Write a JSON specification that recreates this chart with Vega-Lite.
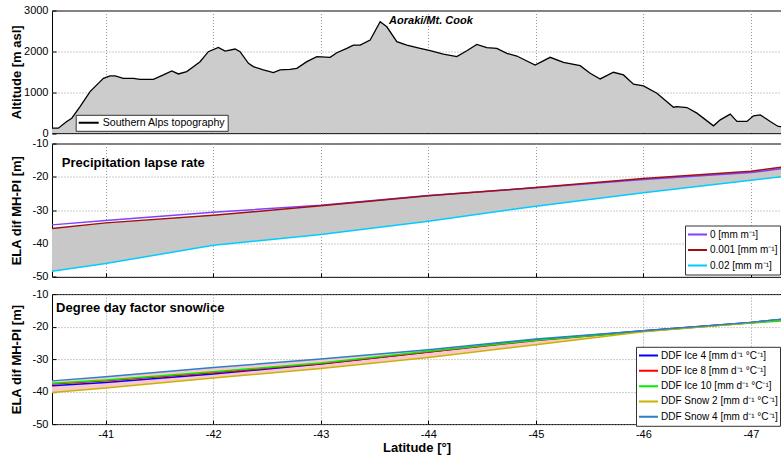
{
  "$schema": "https://vega.github.io/schema/vega-lite/v6.json",
  "padding": {"left": 9, "top": 3.5, "right": 0, "bottom": 0},
  "bounds": "flush",
  "spacing": 10,
  "config": {
    "font": "Liberation Sans",
    "view": {"stroke": "#000", "strokeWidth": 1},
    "axis": {
      "labelFont": "Liberation Sans", "labelFontSize": 11, "labelColor": "#000", "labelOverlap": false,
      "titleFont": "Liberation Sans", "titleFontSize": 13, "titleFontWeight": "bold", "titleColor": "#000",
      "tickSize": -4, "tickColor": "#000", "labelPadding": 8, "domain": false,
      "grid": true, "gridColor": "#999", "gridDash": [1, 2], "gridOpacity": 1
    },
    "legend": {
      "labelFont": "Liberation Sans", "labelFontSize": 10, "labelColor": "#000",
      "symbolType": "stroke", "symbolStrokeWidth": 2, "symbolSize": 361,
      "strokeColor": "#333", "fillColor": "#fff", "padding": 2, "labelOffset": 2,
      "clipHeight": 14, "rowPadding": 1
    }
  },
  "datasets": {
    "topo": [
      {"lat": -40.5, "alt": 120}, {"lat": -40.559, "alt": 120}, {"lat": -40.637, "alt": 285},
      {"lat": -40.684, "alt": 365}, {"lat": -40.761, "alt": 650}, {"lat": -40.854, "alt": 1016},
      {"lat": -40.947, "alt": 1260}, {"lat": -40.978, "alt": 1340}, {"lat": -41.04, "alt": 1400},
      {"lat": -41.087, "alt": 1400}, {"lat": -41.164, "alt": 1340}, {"lat": -41.257, "alt": 1340},
      {"lat": -41.319, "alt": 1317}, {"lat": -41.443, "alt": 1317}, {"lat": -41.536, "alt": 1423},
      {"lat": -41.614, "alt": 1520}, {"lat": -41.675, "alt": 1447}, {"lat": -41.753, "alt": 1504},
      {"lat": -41.815, "alt": 1626}, {"lat": -41.877, "alt": 1748}, {"lat": -41.954, "alt": 1992},
      {"lat": -42.047, "alt": 2098}, {"lat": -42.11, "alt": 2008}, {"lat": -42.203, "alt": 2057},
      {"lat": -42.249, "alt": 1992}, {"lat": -42.327, "alt": 1707}, {"lat": -42.373, "alt": 1626},
      {"lat": -42.466, "alt": 1545}, {"lat": -42.559, "alt": 1480}, {"lat": -42.621, "alt": 1545},
      {"lat": -42.714, "alt": 1561}, {"lat": -42.777, "alt": 1585}, {"lat": -42.87, "alt": 1748},
      {"lat": -42.963, "alt": 1870}, {"lat": -43.087, "alt": 1854}, {"lat": -43.149, "alt": 1967},
      {"lat": -43.242, "alt": 2073}, {"lat": -43.303, "alt": 2154}, {"lat": -43.366, "alt": 2154},
      {"lat": -43.459, "alt": 2276}, {"lat": -43.552, "alt": 2724}, {"lat": -43.614, "alt": 2602},
      {"lat": -43.707, "alt": 2236}, {"lat": -43.8, "alt": 2154}, {"lat": -43.924, "alt": 2073},
      {"lat": -44.017, "alt": 2016}, {"lat": -44.14, "alt": 1935}, {"lat": -44.265, "alt": 1870},
      {"lat": -44.358, "alt": 2016}, {"lat": -44.451, "alt": 2171}, {"lat": -44.544, "alt": 2089},
      {"lat": -44.637, "alt": 2073}, {"lat": -44.73, "alt": 1951}, {"lat": -44.823, "alt": 1886},
      {"lat": -44.993, "alt": 1667}, {"lat": -45.133, "alt": 1854}, {"lat": -45.257, "alt": 1732},
      {"lat": -45.412, "alt": 1650}, {"lat": -45.505, "alt": 1463}, {"lat": -45.598, "alt": 1325},
      {"lat": -45.722, "alt": 1488}, {"lat": -45.815, "alt": 1423}, {"lat": -45.908, "alt": 1195},
      {"lat": -46.001, "alt": 1154}, {"lat": -46.126, "alt": 976}, {"lat": -46.28, "alt": 634},
      {"lat": -46.312, "alt": 650}, {"lat": -46.405, "alt": 626}, {"lat": -46.498, "alt": 488},
      {"lat": -46.652, "alt": 179}, {"lat": -46.715, "alt": 325}, {"lat": -46.808, "alt": 463},
      {"lat": -46.87, "alt": 285}, {"lat": -46.963, "alt": 285}, {"lat": -47.024, "alt": 423},
      {"lat": -47.087, "alt": 447}, {"lat": -47.18, "alt": 285}, {"lat": -47.254, "alt": 163},
      {"lat": -47.28, "alt": 160}
    ],
    "plr": [
      {"lat": -40.5, "p0": -34.4, "p001": -35.5, "p02": -48.3},
      {"lat": -41, "p0": -33.1, "p001": -33.8, "p02": -46.0},
      {"lat": -42, "p0": -30.6, "p001": -31.5, "p02": -40.5},
      {"lat": -43, "p0": -28.5, "p001": -28.7, "p02": -37.3},
      {"lat": -44, "p0": -25.6, "p001": -25.7, "p02": -33.3},
      {"lat": -45, "p0": -23.3, "p001": -23.2, "p02": -28.8},
      {"lat": -46, "p0": -20.8, "p001": -20.5, "p02": -24.8},
      {"lat": -47, "p0": -18.7, "p001": -18.3, "p02": -21.0},
      {"lat": -47.28, "p0": -17.6, "p001": -17.1, "p02": -20.0}
    ],
    "ddf": [
      {"lat": -40.5, "ice4": -38.2, "ice8": -37.7, "ice10": -37.4, "snow2": -40.3, "snow4": -36.7},
      {"lat": -41, "ice4": -37.2, "ice8": -36.7, "ice10": -36.4, "snow2": -38.9, "snow4": -35.4},
      {"lat": -42, "ice4": -34.6, "ice8": -34.2, "ice10": -33.9, "snow2": -35.8, "snow4": -32.6},
      {"lat": -43, "ice4": -31.5, "ice8": -31.4, "ice10": -31.2, "snow2": -32.9, "snow4": -30.0},
      {"lat": -44, "ice4": -27.8, "ice8": -27.8, "ice10": -27.6, "snow2": -29.5, "snow4": -27.1},
      {"lat": -45, "ice4": -24.1, "ice8": -24.3, "ice10": -24.2, "snow2": -25.6, "snow4": -23.8},
      {"lat": -46, "ice4": -21.3, "ice8": -21.4, "ice10": -21.4, "snow2": -21.6, "snow4": -21.3},
      {"lat": -47, "ice4": -18.7, "ice8": -18.8, "ice10": -18.9, "snow2": -18.8, "snow4": -18.7},
      {"lat": -47.28, "ice4": -17.8, "ice8": -18.0, "ice10": -18.3, "snow2": -17.9, "snow4": -17.7}
    ]
  },
  "resolve": {"scale": {"color": "independent"}, "legend": {"color": "independent"}},
  "vconcat": [
    {
      "width": 729, "height": 122.6,
      "layer": [
        {
          "data": {"name": "topo"},
          "mark": {"type": "area", "color": "#cccccc"},
          "encoding": {
            "x": {"field": "lat", "type": "quantitative",
              "scale": {"domain": [-40.5, -47.28], "nice": false, "zero": false},
              "axis": {"values": [-41, -42, -43, -44, -45, -46, -47], "tickCount": 20, "labels": false, "title": null}},
            "y": {"field": "alt", "type": "quantitative",
              "scale": {"domain": [0, 3000], "nice": false},
              "axis": {"values": [0, 1000, 2000, 3000], "tickCount": 10, "labelOverlap": false, "labelExpr": "'' + datum.value", "title": "Altitude [m asl]", "titleX": -29}}
          }
        },
        {
          "data": {"name": "topo"},
          "mark": {"type": "line", "strokeWidth": 1.3},
          "encoding": {
            "x": {"field": "lat", "type": "quantitative"},
            "y": {"field": "alt", "type": "quantitative"},
            "color": {"datum": "Southern Alps topography", "type": "nominal",
              "scale": {"range": ["#000000"]},
              "legend": {"title": null, "orient": "none", "legendX": 23.7, "legendY": 104.3, "clipHeight": 12, "labelFontSize": 10.6, "symbolSize": 400, "labelOffset": 3}}
          }
        },
        {
          "data": {"values": [{"label": "Aoraki/Mt. Cook", "lat": -43.635, "alt": 2755}]},
          "mark": {"type": "text", "align": "left", "baseline": "middle", "fontSize": 11, "fontWeight": "bold", "fontStyle": "italic", "font": "Liberation Sans", "color": "#000"},
          "encoding": {
            "x": {"field": "lat", "type": "quantitative"},
            "y": {"field": "alt", "type": "quantitative"},
            "text": {"field": "label"}
          }
        }
      ]
    },
    {
      "spacing": 16.6,
      "bounds": "flush",
      "resolve": {"scale": {"color": "independent"}, "legend": {"color": "independent"}},
      "vconcat": [
        {
          "width": 729, "height": 133.4,
          "layer": [
            {
              "data": {"name": "plr"},
              "mark": {"type": "area", "color": "#c8c8c8"},
              "encoding": {
                "x": {"field": "lat", "type": "quantitative",
                  "scale": {"domain": [-40.5, -47.28], "nice": false, "zero": false},
                  "axis": {"values": [-41, -42, -43, -44, -45, -46, -47], "tickCount": 20, "labels": false, "title": null}},
                "y": {"field": "p02", "type": "quantitative",
                  "scale": {"domain": [-50, -10], "nice": false, "zero": false},
                  "axis": {"values": [-50, -40, -30, -20, -10], "tickCount": 10, "labelOverlap": false, "labelExpr": "'' + datum.value", "title": "ELA dif MH-PI [m]", "titleX": -29}},
                "y2": {"field": "p001"}
              }
            },
            {
              "data": {"name": "plr"},
              "transform": [{"fold": ["p0", "p001", "p02"], "as": ["series", "v"]}],
              "mark": {"type": "line", "strokeWidth": 1.5},
              "encoding": {
                "x": {"field": "lat", "type": "quantitative"},
                "y": {"field": "v", "type": "quantitative"},
                "color": {"field": "series", "type": "nominal",
                  "scale": {"domain": ["p0", "p001", "p02"], "range": ["#8040ff", "#a01010", "#00ccff"]},
                  "legend": {"title": null, "orient": "none", "legendX": 633, "legendY": 82, "clipHeight": 14, "rowPadding": 1.5,
                    "labelExpr": "datum.label == 'p0' ? '0 [mm m⁻¹]' : datum.label == 'p001' ? '0.001 [mm m⁻¹]' : '0.02 [mm m⁻¹]'"}}
              }
            },
            {
              "data": {"values": [{"label": "Precipitation lapse rate", "lat": -40.591, "v": -15.9}]},
              "mark": {"type": "text", "align": "left", "baseline": "middle", "fontSize": 13, "fontWeight": "bold", "font": "Liberation Sans", "color": "#000"},
              "encoding": {
                "x": {"field": "lat", "type": "quantitative"},
                "y": {"field": "v", "type": "quantitative"},
                "text": {"field": "label"}
              }
            }
          ]
        },
        {
          "width": 729, "height": 130,
          "layer": [
            {
              "data": {"name": "ddf"},
              "mark": {"type": "area", "color": "#f8c8cc"},
              "encoding": {
                "x": {"field": "lat", "type": "quantitative",
                  "scale": {"domain": [-40.5, -47.28], "nice": false, "zero": false},
                  "axis": {"values": [-41, -42, -43, -44, -45, -46, -47], "tickCount": 20, "labelExpr": "'' + datum.value", "title": "Latitude [°]", "titlePadding": 2}},
                "y": {"field": "snow2", "type": "quantitative",
                  "scale": {"domain": [-50, -10], "nice": false, "zero": false},
                  "axis": {"values": [-50, -40, -30, -20, -10], "tickCount": 10, "labelOverlap": false, "labelExpr": "'' + datum.value", "title": "ELA dif MH-PI [m]", "titleX": -29}},
                "y2": {"field": "snow4"}
              }
            },
            {
              "data": {"name": "ddf"},
              "transform": [{"fold": ["ice4", "ice8", "ice10", "snow2", "snow4"], "as": ["series", "v"]}],
              "mark": {"type": "line", "strokeWidth": 1.5},
              "encoding": {
                "x": {"field": "lat", "type": "quantitative"},
                "y": {"field": "v", "type": "quantitative"},
                "color": {"field": "series", "type": "nominal",
                  "scale": {"domain": ["ice4", "ice8", "ice10", "snow2", "snow4"], "range": ["#0000ff", "#ff0000", "#00ee00", "#c8b400", "#2a7fc8"]},
                  "legend": {"title": null, "orient": "none", "legendX": 584, "legendY": 52.7, "clipHeight": 13.5, "rowPadding": 1.3,
                    "labelExpr": "datum.label == 'ice4' ? 'DDF Ice 4 [mm d⁻¹ °C⁻¹]' : datum.label == 'ice8' ? 'DDF Ice 8 [mm d⁻¹ °C⁻¹]' : datum.label == 'ice10' ? 'DDF Ice 10 [mm d⁻¹ °C⁻¹]' : datum.label == 'snow2' ? 'DDF Snow 2 [mm d⁻¹ °C⁻¹]' : 'DDF Snow 4 [mm d⁻¹ °C⁻¹]'"}}
              }
            },
            {
              "data": {"values": [{"label": "Degree day factor snow/ice", "lat": -40.538, "v": -14.4}]},
              "mark": {"type": "text", "align": "left", "baseline": "middle", "fontSize": 13, "fontWeight": "bold", "font": "Liberation Sans", "color": "#000"},
              "encoding": {
                "x": {"field": "lat", "type": "quantitative"},
                "y": {"field": "v", "type": "quantitative"},
                "text": {"field": "label"}
              }
            }
          ]
        }
      ]
    }
  ]
}
